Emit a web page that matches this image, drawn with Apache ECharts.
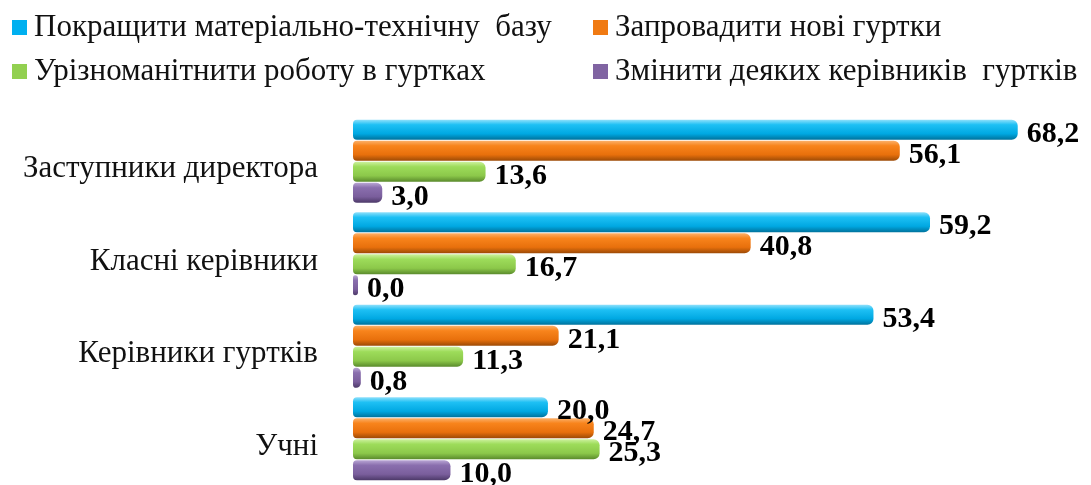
<!DOCTYPE html>
<html>
<head>
<meta charset="utf-8">
<script src="https://cdn.jsdelivr.net/npm/echarts@6/dist/echarts.min.js"></script>
<style>
  html, body { margin: 0; padding: 0; background: #fff; }
  #chart { width: 1091px; height: 485px; }
</style>
</head>
<body>
<div id="chart"></div>
<script>
const categories = ['Заступники директора', 'Класні керівники', 'Керівники гуртків', 'Учні']
const seriesNames = [
  'Покращити матеріально-технічну  базу',
  'Запровадити нові гуртки',
  'Урізноманітнити роботу в гуртках',
  'Змінити деяких керівників  гуртків'
]
const improveBase = [68.2, 59.2, 53.4, 20.0]
const newClubs = [56.1, 40.8, 21.1, 24.7]
const diversify = [13.6, 16.7, 11.3, 25.3]
const changeLeaders = [3.0, 0.0, 0.8, 10.0]

const serif = "'Liberation Serif', 'Times New Roman', serif"

// light top, base middle, dark bottom -> cylinder look
const palette = [
  { base: '#00b0f0', stops: ['#8fe0fb', '#1ec0f4', '#00a8e2', '#00729c'] },
  { base: '#f07a12', stops: ['#fbb06a', '#f8841c', '#e8700c', '#9c4a06'] },
  { base: '#92d050', stops: ['#cdf19e', '#9ddc5a', '#8cc84a', '#5a8a2c'] },
  { base: '#8064a2', stops: ['#b9a6d4', '#8a6fae', '#7a5e9c', '#4c3968'] }
]

function cylinder(stops) {
  return new echarts.graphic.LinearGradient(0, 0, 0, 1, [
    { offset: 0, color: stops[0] },
    { offset: 0.25, color: stops[1] },
    { offset: 0.7, color: stops[2] },
    { offset: 1, color: stops[3] }
  ])
}

const values = [improveBase, newClubs, diversify, changeLeaders]

const legendPos = [
  { left: 12, top: 12 },
  { left: 593, top: 12 },
  { left: 12, top: 56 },
  { left: 593, top: 56 }
]

const chart = echarts.init(document.getElementById('chart'))

chart.setOption({
  animation: false,
  backgroundColor: '#fff',
  legend: seriesNames.map((name, i) => ({
    data: [{ name: name, itemStyle: { color: palette[i].base } }],
    left: legendPos[i].left,
    top: legendPos[i].top,
    padding: 0,
    icon: 'rect',
    itemWidth: 15,
    itemHeight: 15,
    selectedMode: false,
    textStyle: {
      fontFamily: serif,
      fontSize: 31,
      lineHeight: 30,
      color: '#111',
      padding: [0, 0, 0, 2]
    }
  })),
  grid: {
    left: 353,
    right: 7,
    top: 115,
    bottom: 0
  },
  xAxis: {
    type: 'value',
    min: 0,
    max: 75,
    show: false
  },
  yAxis: {
    type: 'category',
    inverse: true,
    data: categories,
    axisLine: { show: false },
    axisTick: { show: false },
    axisLabel: {
      margin: 35,
      fontFamily: serif,
      fontSize: 31,
      color: '#111',
      verticalAlign: 'top',
      lineHeight: 16
    }
  },
  series: seriesNames.map((name, i) => ({
    name: name,
    type: 'bar',
    data: values[i],
    barWidth: 20,
    barGap: '5%',
    barMinHeight: 5,
    itemStyle: {
      color: cylinder(palette[i].stops),
      borderRadius: [4, 6, 6, 4]
    },
    label: {
      show: true,
      position: 'right',
      distance: 9,
      offset: [0, 4],
      fontFamily: serif,
      fontWeight: 'bold',
      fontSize: 30,
      color: '#000',
      formatter: (p) => p.value.toFixed(1).replace('.', ',')
    }
  })),
  color: palette.map(p => p.base)
})
</script>
</body>
</html>
